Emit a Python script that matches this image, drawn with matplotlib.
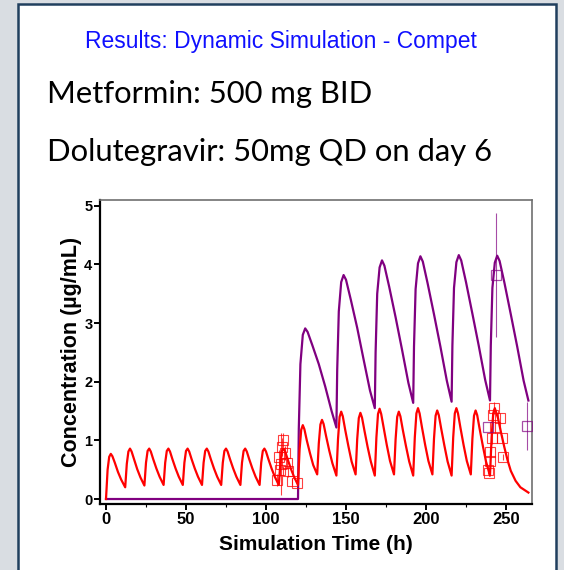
import matplotlib.pyplot as plt
from matplotlib.patches import Rectangle

# Metformin 500 mg BID: concentration (ug/mL) sampled at fixed hours after each dose
met_dose_t = [0, 12, 24, 36, 48, 60, 72, 84, 96, 108,
              120, 132, 144, 156, 168, 180, 192, 204, 216, 228, 240]
met_offsets = [0, 1, 2, 3, 4, 5.5, 7.5, 9.5]
met_levels = [
    [0.00, 0.50, 0.72, 0.77, 0.73, 0.62, 0.46, 0.33],
    [0.20, 0.60, 0.81, 0.86, 0.81, 0.68, 0.51, 0.37],
    [0.23, 0.62, 0.82, 0.86, 0.81, 0.68, 0.52, 0.38],
    [0.24, 0.62, 0.82, 0.86, 0.81, 0.68, 0.52, 0.38],
    [0.24, 0.62, 0.82, 0.86, 0.81, 0.68, 0.52, 0.38],
    [0.24, 0.62, 0.82, 0.86, 0.81, 0.68, 0.52, 0.38],
    [0.24, 0.62, 0.82, 0.86, 0.81, 0.68, 0.52, 0.38],
    [0.24, 0.62, 0.82, 0.86, 0.81, 0.68, 0.52, 0.38],
    [0.24, 0.62, 0.82, 0.86, 0.81, 0.68, 0.52, 0.38],
    [0.24, 0.62, 0.82, 0.86, 0.81, 0.68, 0.52, 0.38],
    [0.24, 0.85, 1.18, 1.26, 1.19, 1.00, 0.78, 0.58],
    [0.42, 0.95, 1.27, 1.35, 1.28, 1.08, 0.83, 0.61],
    [0.40, 1.02, 1.40, 1.49, 1.41, 1.18, 0.90, 0.64],
    [0.42, 1.02, 1.38, 1.47, 1.39, 1.17, 0.89, 0.64],
    [0.40, 1.05, 1.45, 1.54, 1.45, 1.22, 0.92, 0.65],
    [0.42, 1.02, 1.40, 1.49, 1.41, 1.18, 0.90, 0.64],
    [0.40, 1.05, 1.46, 1.55, 1.46, 1.22, 0.92, 0.65],
    [0.42, 1.03, 1.42, 1.51, 1.43, 1.20, 0.91, 0.64],
    [0.40, 1.05, 1.46, 1.55, 1.46, 1.22, 0.92, 0.65],
    [0.42, 1.03, 1.42, 1.51, 1.43, 1.20, 0.91, 0.64],
    [0.40, 1.05, 1.46, 1.55],
]
met_tail_t = [245, 247, 249, 251, 253, 256, 259, 264]
met_tail_c = [1.38, 1.12, 0.88, 0.66, 0.48, 0.31, 0.20, 0.11]

# Dolutegravir 50 mg QD from day 6 (hour 120)
dtg_dose_t = [120, 144, 168, 192, 216, 240]
dtg_offsets = [0, 0.5, 1.5, 3, 4.5, 6, 9, 13, 17, 21]
dtg_levels = [
    [0.00, 1.20, 2.30, 2.80, 2.91, 2.85, 2.62, 2.30, 1.92, 1.50],
    [1.22, 2.20, 3.20, 3.70, 3.82, 3.74, 3.40, 2.92, 2.38, 1.85],
    [1.55, 2.50, 3.50, 3.95, 4.07, 3.98, 3.62, 3.10, 2.55, 1.98],
    [1.64, 2.60, 3.58, 4.02, 4.14, 4.05, 3.68, 3.15, 2.60, 2.02],
    [1.66, 2.62, 3.60, 4.04, 4.16, 4.07, 3.70, 3.16, 2.61, 2.03],
    [1.68, 2.62, 3.60, 4.03, 4.15, 4.06, 3.69, 3.15, 2.60, 2.02],
]
dtg_end_t = 264
dtg_end_c = 1.68

# observed concentrations (mean +/- SD)
met_obs_t = [107.0, 108.3, 108.8, 109.5, 109.8, 110.8, 111.9, 112.9, 114.0, 116.0, 119.2,
             239.0, 239.5, 240.0, 240.0, 241.0, 241.7, 242.5, 243.0, 246.0, 247.3, 248.3]
met_obs_c = [0.32, 0.72, 0.49, 0.60, 0.89, 1.00, 0.78, 0.61, 0.47, 0.30, 0.27,
             0.49, 0.44, 0.64, 0.81, 1.04, 1.43, 1.55, 1.23, 1.38, 1.04, 0.72]
met_obs_sd = [0.10, 0.12, 0.10, 0.53, 0.15, 0.12, 0.12, 0.10, 0.10, 0.06, 0.05,
              0.06, 0.05, 0.08, 0.08, 0.10, 0.10, 0.10, 0.10, 0.08, 0.06, 0.05]
dtg_obs_t = [239.0, 243.5, 263.0]
dtg_obs_c = [1.22, 3.82, 1.25]
dtg_obs_sd = [0.00, 1.06, 0.41]

x_ticks = [0, 50, 100, 150, 200, 250]
x_minor = [25, 75, 125, 175, 225]
y_ticks = [0, 1, 2, 3, 4, 5]

RED = '#ff0000'
PURPLE = '#800080'

# join the sampled intervals into one profile per drug
met_t, met_c = [], []
for d, row in zip(met_dose_t, met_levels):
    for off, c in zip(met_offsets, row):
        met_t.append(d + off)
        met_c.append(c)
met_t += met_tail_t
met_c += met_tail_c

dtg_t, dtg_c = [0], [0.0]
for d, row in zip(dtg_dose_t, dtg_levels):
    for off, c in zip(dtg_offsets, row):
        dtg_t.append(d + off)
        dtg_c.append(c)
dtg_t.append(dtg_end_t)
dtg_c.append(dtg_end_c)

W, H = 564, 570
fig = plt.figure(figsize=(W / 100, H / 100), dpi=100, facecolor='#d9dde2')

# slide panel behind everything
fig.patches.append(Rectangle((18 / W, -0.02), 538 / W, 1.02 - 4 / H,
                             transform=fig.transFigure, facecolor='white',
                             edgecolor='#203f5e', linewidth=1.8, zorder=-5))

def fy(py):
    return 1 - py / H

fig.text(85 / W, fy(48), 'Results: Dynamic Simulation - Compet', color='#1010ff',
         family='Liberation Sans', fontsize=16.5, va='baseline')
fig.text(47 / W, fy(103), 'Metformin: 500 mg BID', color='black',
         family='Lato', fontsize=22.3, va='baseline')
fig.text(47 / W, fy(161), 'Dolutegravir: 50mg QD on day 6', color='black',
         family='Lato', fontsize=22.3, va='baseline')

ax = fig.add_axes([100 / W, 66 / H, 432 / W, 304 / H])
ax.plot(dtg_t, dtg_c, color=PURPLE, lw=1.6, zorder=3)
ax.plot(met_t, met_c, color=RED, lw=1.6, zorder=4)

ax.errorbar(met_obs_t, met_obs_c, yerr=met_obs_sd, fmt='s', ms=6.5, mfc='none',
            mec=RED, mew=0.8, ecolor=RED, elinewidth=0.8, alpha=0.75, zorder=5)
ax.errorbar(dtg_obs_t, dtg_obs_c, yerr=dtg_obs_sd, fmt='s', ms=7.5, mfc='none',
            mec=PURPLE, mew=0.9, ecolor=PURPLE, elinewidth=0.8, alpha=0.7, zorder=5)

ax.set_xlim(-3.75, 266.25)
ax.set_ylim(-0.085, 5.10)
ax.set_xticks(x_ticks)
ax.set_xticks(x_minor, minor=True)
ax.set_yticks(y_ticks)

for side in ('left', 'bottom'):
    ax.spines[side].set_linewidth(1.6)
    ax.spines[side].set_color('black')
for side in ('top', 'right'):
    ax.spines[side].set_linewidth(1.2)
    ax.spines[side].set_color('#707070')

ax.tick_params(axis='both', which='major', direction='out', length=4, width=1.4,
               colors='black', pad=1.5)
ax.tick_params(axis='x', which='minor', direction='out', length=2.5, width=0.8)
for lab in ax.get_xticklabels():
    lab.set_fontfamily('Liberation Sans')
    lab.set_fontweight('bold')
    lab.set_fontsize(12)
for lab in ax.get_yticklabels():
    lab.set_fontfamily('Liberation Sans')
    lab.set_fontweight('bold')
    lab.set_fontsize(10.5)

# axis titles placed in figure pixels
fig.text(316 / W, fy(545), 'Simulation Time (h)', family='Liberation Sans',
         fontweight='bold', fontsize=15, ha='center', va='center')
fig.text(71 / W, fy(352), 'Concentration (µg/mL)', family='Liberation Sans',
         fontweight='bold', fontsize=15.5, ha='center', va='center', rotation=90)

fig.savefig('out.png', dpi=100, facecolor=fig.get_facecolor())
